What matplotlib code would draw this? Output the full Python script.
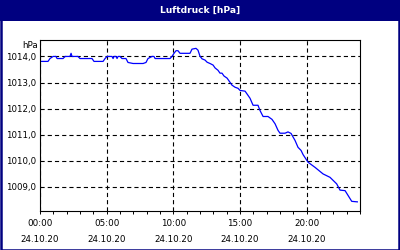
#!/usr/bin/env python3
"""Luftdruck [hPa] - Tagesverlauf 24.10.20, nachgebaut mit matplotlib."""
import matplotlib
matplotlib.use('Agg')
import matplotlib.pyplot as plt
from matplotlib.patches import Rectangle
from matplotlib.ticker import FixedLocator, MultipleLocator, FuncFormatter

# Stunden seit 00:00 am 24.10.20
HOURS = [0.0, 0.6, 0.75, 0.98, 1.2, 1.28, 1.73, 1.88, 2.25, 2.33, 2.4, 2.85, 3.0,
         3.9, 4.05, 4.73, 4.88, 5.03, 5.4, 5.48, 5.55, 5.7, 5.78, 5.85, 6.0, 6.15,
         6.45, 6.6, 6.98, 7.73, 7.95, 8.1, 8.4, 8.55, 8.63, 9.75, 9.9, 10.05, 10.2,
         10.35, 10.5, 11.25, 11.4, 11.7, 11.85, 12.0, 12.15, 12.38, 12.53, 12.75,
         12.98, 13.13, 13.35, 13.5, 13.65, 13.8, 14.03, 14.25, 14.4, 14.63, 14.85,
         15.0, 15.38, 15.6, 15.75, 15.98, 16.35, 16.5, 16.73, 17.1, 17.4, 17.63,
         17.85, 18.0, 18.38, 18.6, 18.83, 19.13, 19.35, 19.58, 19.73, 20.1, 20.63,
         21.23, 21.75, 22.25, 22.5, 22.88, 23.38, 23.8]
PRESSURE = [1013.81, 1013.81, 1013.92, 1014.0, 1014.0, 1013.92, 1013.92, 1014.0,
            1014.0, 1014.12, 1014.0, 1014.0, 1013.92, 1013.92, 1013.81, 1013.81,
            1013.92, 1014.0, 1014.0, 1013.92, 1014.0, 1014.0, 1013.92, 1014.0,
            1014.0, 1013.92, 1013.92, 1013.77, 1013.73, 1013.73, 1013.77, 1013.92,
            1014.0, 1014.0, 1013.92, 1013.92, 1014.0, 1014.12, 1014.22, 1014.22,
            1014.12, 1014.12, 1014.28, 1014.31, 1014.24, 1014.01, 1013.91, 1013.86,
            1013.78, 1013.73, 1013.67, 1013.56, 1013.47, 1013.36, 1013.36, 1013.25,
            1013.17, 1013.01, 1012.90, 1012.82, 1012.78, 1012.70, 1012.67, 1012.51,
            1012.40, 1012.13, 1012.13, 1011.93, 1011.70, 1011.70, 1011.59, 1011.42,
            1011.17, 1011.06, 1011.06, 1011.11, 1011.05, 1010.78, 1010.52, 1010.40,
            1010.24, 1009.95, 1009.75, 1009.50, 1009.37, 1009.12, 1008.88, 1008.86,
            1008.45, 1008.43]

X_TICKS = [0, 5, 10, 15, 20]
X_LABELS = ['00:00\n24.10.20', '05:00\n24.10.20', '10:00\n24.10.20',
            '15:00\n24.10.20', '20:00\n24.10.20']
Y_TICKS = [1009, 1010, 1011, 1012, 1013, 1014]

NAVY = '#000080'

plt.rcParams['lines.scale_dashes'] = False
plt.rcParams['font.family'] = ['DejaVu Sans']

fig = plt.figure(figsize=(4, 2.5), dpi=100)
fig.patch.set_facecolor('white')

# Titelbalken und Rahmen
fig.add_artist(Rectangle((0, 1 - 21 / 250), 1, 21 / 250, transform=fig.transFigure,
                         facecolor=NAVY, edgecolor='none', zorder=0))
fig.add_artist(Rectangle((0.5 / 400, 0.5 / 250), 1 - 1.5 / 400, 1 - 1 / 250,
                         transform=fig.transFigure, facecolor='none',
                         edgecolor=NAVY, linewidth=1.8, zorder=0))
fig.text(0.5, 1 - 10.5 / 250, 'Luftdruck [hPa]', color='white', fontsize=6.6,
         fontweight='bold', ha='center', va='center')

ax = fig.add_axes([40 / 400, 1 - 211 / 250, 320 / 400, 171 / 250])
ax.plot(HOURS, PRESSURE, color='#0000ff', linewidth=0.9)

ax.set_xlim(0, 24)
ax.set_ylim(1008.08, 1014.63)

ax.xaxis.set_major_locator(FixedLocator(X_TICKS))
ax.set_xticklabels(X_LABELS, fontsize=6.3, linespacing=2.1)
ax.xaxis.set_minor_locator(MultipleLocator(1))
ax.yaxis.set_major_locator(FixedLocator(Y_TICKS))
ax.yaxis.set_major_formatter(FuncFormatter(lambda v, p: f'{v:.1f}'.replace('.', ',')))

ax.tick_params(axis='x', which='both', direction='out', length=2.5, width=0.7,
               pad=3, colors='black')
ax.tick_params(axis='y', which='both', length=0, pad=3, labelsize=6.2)

ax.grid(True, which='major', color='black', linewidth=0.8, linestyle=(0, (3, 2.2)))
for s in ax.spines.values():
    s.set_linewidth(0.8)

ax.text(-0.006, 0.995, 'hPa', transform=ax.transAxes, fontsize=6.3,
        ha='right', va='top')

fig.savefig('out.png', dpi=100)
